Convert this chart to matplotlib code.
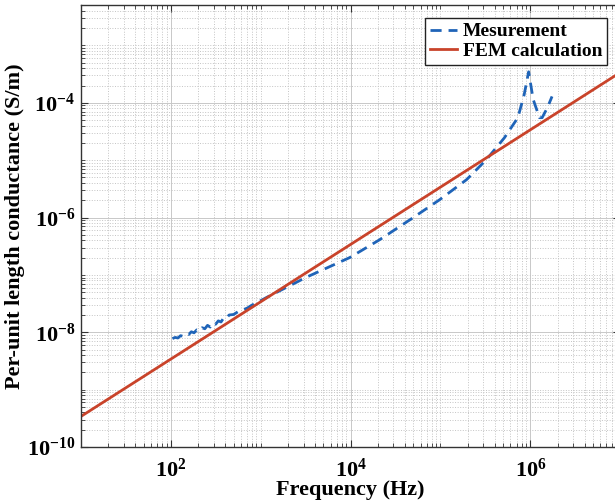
import numpy as np
import matplotlib
matplotlib.use('Agg')
import matplotlib.pyplot as plt
from matplotlib.ticker import FixedLocator, LogLocator, FuncFormatter, NullFormatter

plt.rcParams['font.family'] = 'Liberation Serif'
plt.rcParams['font.weight'] = 'bold'
plt.rcParams['mathtext.fontset'] = 'custom'
plt.rcParams['mathtext.rm'] = 'Liberation Serif:bold'
plt.rcParams['mathtext.bf'] = 'Liberation Serif:bold'
plt.rcParams['mathtext.it'] = 'Liberation Serif:bold'

# measured curve (Hz, S/m)
meas_freq = [104.7, 112.2, 120.2, 128.8, 138.0, 147.9, 158.5, 169.8, 182.0, 195.0,
             208.9, 223.9, 239.9, 257.0, 275.4, 295.1, 316.2, 338.8, 363.1, 389.0,
             416.9, 446.7, 501.2, 562.3, 631.0, 707.9, 794.3, 891.3, 1000, 1175,
             3236, 9772, 20893, 45709, 97724, 194984, 323594, 512861, 724436, 851138,
             954993, 1071519, 1258925, 1348963, 1548817, 1737801]
meas_g = [7.76e-9, 8.13e-9, 7.94e-9, 8.71e-9, 8.51e-9, 9.33e-9, 9.12e-9, 1.02e-8, 9.77e-9, 1.10e-8,
          1.05e-8, 1.20e-8, 1.15e-8, 1.32e-8, 1.23e-8, 1.45e-8, 1.38e-8, 1.58e-8, 1.51e-8, 1.78e-8,
          1.74e-8, 2.00e-8, 2.04e-8, 2.29e-8, 2.45e-8, 2.63e-8, 2.95e-8, 3.24e-8, 3.55e-8, 4.07e-8,
          9.12e-8, 2.00e-7, 4.07e-7, 9.12e-7, 2.04e-6, 4.57e-6, 1.02e-5, 2.45e-5, 5.50e-5, 1.38e-4,
          3.47e-4, 1.15e-4, 5.50e-5, 5.50e-5, 8.32e-5, 1.29e-4]

# FEM calculation (straight line in log-log)
fem_freq = [10, 1e7]
fem_g = [3.39e-10, 3.39e-4]

x_major = [1e2, 1e4, 1e6]
y_major = [1e-10, 1e-8, 1e-6, 1e-4]

fig = plt.figure(figsize=(6.15, 5.04), dpi=100)
ax = fig.add_axes([80.7 / 615, 57 / 504, (620.4 - 80.7) / 615, (447 - 5.3) / 504])

ax.loglog(meas_freq, meas_g, linestyle='--', dashes=(4, 2.5), color='#1f64b8',
          linewidth=2, label='Mesurement')
ax.loglog(fem_freq, fem_g, color='#c9432a', linewidth=2, label='FEM calculation')

ax.set_xlim(10, 1e7)
ax.set_ylim(1e-10, 5e-3)

ax.xaxis.set_major_locator(FixedLocator(x_major))
ax.yaxis.set_major_locator(FixedLocator(y_major))
ax.xaxis.set_minor_locator(LogLocator(base=10, subs=np.arange(1, 10), numticks=50))
ax.yaxis.set_minor_locator(LogLocator(base=10, subs=np.arange(1, 10), numticks=50))
fmt = FuncFormatter(lambda v, p: r'$10^{%d}$' % int(round(np.log10(v))))
ax.xaxis.set_major_formatter(fmt)
ax.yaxis.set_major_formatter(fmt)
ax.xaxis.set_minor_formatter(NullFormatter())
ax.yaxis.set_minor_formatter(NullFormatter())

ax.tick_params(which='both', direction='in', top=True, right=True, labelsize=16, color='#333333')
ax.tick_params(which='major', length=5, width=0.8)
ax.tick_params(which='minor', length=3, width=0.6)
ax.tick_params(axis='x', pad=8)
ax.tick_params(axis='y', pad=4)

ax.grid(True, which='major', color='#c8c8c8', linestyle='-', linewidth=0.7)
ax.grid(True, which='minor', color='#c4c4c4', linestyle=':', linewidth=0.7)
ax.set_axisbelow(True)

for s in ax.spines.values():
    s.set_color('#333333')
    s.set_linewidth(1.0)

ax.set_xlabel('Frequency (Hz)', fontsize=16, fontweight='bold', labelpad=-1)
ax.set_ylabel('Per-unit length conductance (S/m)', fontsize=16, fontweight='bold', labelpad=1)

leg = ax.legend(loc='upper right', bbox_to_anchor=(607 / 615, 1 - 18 / 504),
                bbox_transform=fig.transFigure, borderaxespad=0, fontsize=14,
                handlelength=1.4, handletextpad=0.3, borderpad=0.25, labelspacing=0.1,
                fancybox=False, framealpha=1, edgecolor='#222222')
leg.get_frame().set_linewidth(1.0)
for t in leg.get_texts():
    t.set_fontweight('bold')

fig.savefig('out.png', dpi=100)
